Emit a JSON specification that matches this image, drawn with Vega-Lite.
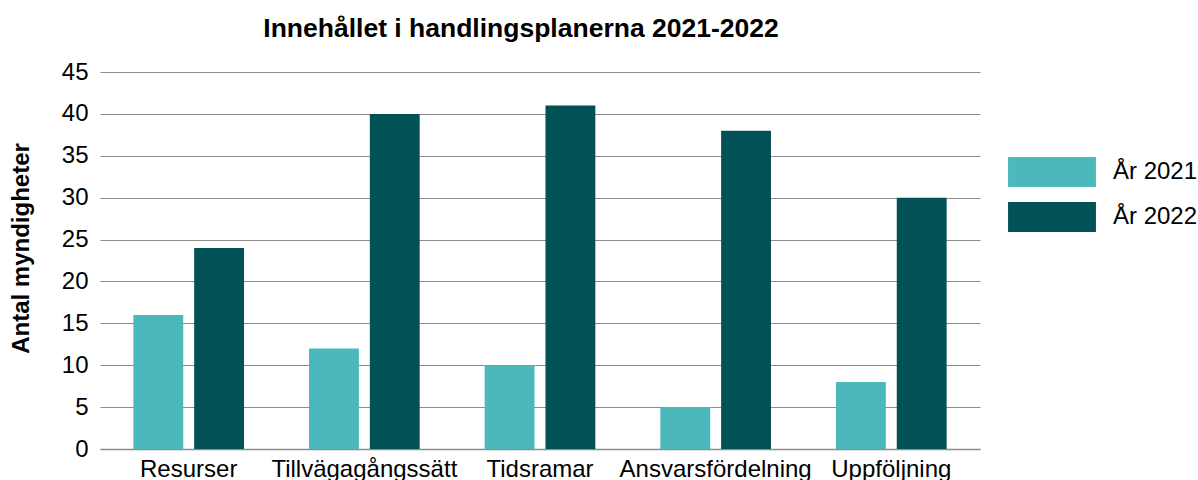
{
  "$schema": "https://vega.github.io/schema/vega-lite/v6.json",
  "autosize": "none",
  "width": 880,
  "height": 377,
  "padding": {"left": 100, "top": 72, "right": 218, "bottom": 31},
  "background": "white",
  "config": {
    "font": "Liberation Sans",
    "view": {"stroke": null}
  },
  "title": {
    "text": "Innehållet i handlingsplanerna 2021-2022",
    "fontSize": 26.5,
    "fontWeight": "bold",
    "font": "Liberation Sans",
    "color": "black",
    "anchor": "middle",
    "frame": "group",
    "dx": -19,
    "offset": 18
  },
  "data": {
    "values": [
      {"kategori": "Resurser", "ar": "År 2021", "antal": 16},
      {"kategori": "Resurser", "ar": "År 2022", "antal": 24},
      {"kategori": "Tillvägagångssätt", "ar": "År 2021", "antal": 12},
      {"kategori": "Tillvägagångssätt", "ar": "År 2022", "antal": 40},
      {"kategori": "Tidsramar", "ar": "År 2021", "antal": 10},
      {"kategori": "Tidsramar", "ar": "År 2022", "antal": 41},
      {"kategori": "Ansvarsfördelning", "ar": "År 2021", "antal": 5},
      {"kategori": "Ansvarsfördelning", "ar": "År 2022", "antal": 38},
      {"kategori": "Uppföljning", "ar": "År 2021", "antal": 8},
      {"kategori": "Uppföljning", "ar": "År 2022", "antal": 30}
    ]
  },
  "mark": {"type": "bar"},
  "encoding": {
    "x": {
      "field": "kategori",
      "type": "nominal",
      "sort": null,
      "scale": {"paddingInner": 0.37, "paddingOuter": 0.19},
      "axis": {
        "title": null,
        "labelAngle": 0,
        "labelFontSize": 24,
        "labelColor": "black",
        "labelPadding": 8,
        "labelLimit": 0,
        "labelOverlap": false,
        "ticks": false,
        "domainColor": "#8c8c8c",
        "domainWidth": 1.5,
        "grid": false
      }
    },
    "xOffset": {
      "field": "ar",
      "type": "nominal",
      "scale": {"paddingInner": 0.18, "paddingOuter": 0}
    },
    "y": {
      "field": "antal",
      "type": "quantitative",
      "scale": {"domain": [0, 45], "nice": false},
      "axis": {
        "title": "Antal myndigheter",
        "titleFontSize": 24,
        "titleFontWeight": "bold",
        "titleColor": "black",
        "titlePadding": 28,
        "titleY": 176,
        "values": [0, 5, 10, 15, 20, 25, 30, 35, 40, 45],
        "labelFontSize": 24,
        "labelColor": "black",
        "labelPadding": 12,
        "ticks": false,
        "domain": false,
        "grid": true,
        "gridColor": "#8c8c8c",
        "gridWidth": 1
      }
    },
    "color": {
      "field": "ar",
      "type": "nominal",
      "scale": {"domain": ["År 2021", "År 2022"], "range": ["#4bb8bc", "#025157"]},
      "legend": {
        "title": null,
        "orient": "none",
        "legendX": 937,
        "legendY": 85,
        "symbolType": "M-2.93,-1H2.93V1H-2.93Z",
        "symbolSize": 900,
        "symbolStrokeWidth": 0,
        "symbolOpacity": 1,
        "labelFontSize": 24,
        "labelColor": "black",
        "labelOffset": 46,
        "rowPadding": 15
      }
    }
  }
}
